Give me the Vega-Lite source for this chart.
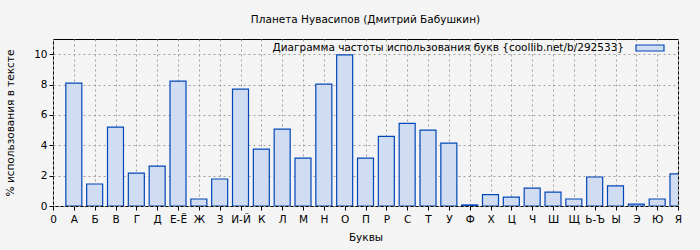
{
  "$schema": "https://vega.github.io/schema/vega-lite/v6.json",
  "width": 625,
  "height": 167,
  "autosize": {"type": "none"},
  "padding": {"left": 53, "top": 39, "right": 22, "bottom": 44},
  "background": "#f4f4f4",
  "title": {"text": "Планета Нувасипов (Дмитрий Бабушкин)", "font": "DejaVu Sans", "fontSize": 10.5, "fontWeight": "normal", "color": "#000000", "anchor": "middle", "offset": 14},
  "config": {
    "view": {"stroke": "#000000", "strokeWidth": 1, "fill": "#f4f4f4"},
    "axis": {"labelFont": "DejaVu Sans", "titleFont": "DejaVu Sans", "labelFontSize": 10.5, "titleFontSize": 10.5, "titleFontWeight": "normal", "labelColor": "#000000", "titleColor": "#000000", "gridColor": "#a0a0a0", "gridDash": [2, 3], "gridOpacity": 1, "domain": false, "tickColor": "#000000", "tickSize": 4}
  },
  "data": {"values": [
    {"letter": "А", "value": 8.09},
    {"letter": "Б", "value": 1.45},
    {"letter": "В", "value": 5.2},
    {"letter": "Г", "value": 2.17},
    {"letter": "Д", "value": 2.63},
    {"letter": "Е-Ё", "value": 8.22},
    {"letter": "Ж", "value": 0.46},
    {"letter": "З", "value": 1.78},
    {"letter": "И-Й", "value": 7.7},
    {"letter": "К", "value": 3.75},
    {"letter": "Л", "value": 5.07},
    {"letter": "М", "value": 3.16},
    {"letter": "Н", "value": 8.03},
    {"letter": "О", "value": 9.96},
    {"letter": "П", "value": 3.16},
    {"letter": "Р", "value": 4.58},
    {"letter": "С", "value": 5.44},
    {"letter": "Т", "value": 5.0},
    {"letter": "У", "value": 4.14},
    {"letter": "Ф", "value": 0.07},
    {"letter": "Х", "value": 0.75},
    {"letter": "Ц", "value": 0.59},
    {"letter": "Ч", "value": 1.18},
    {"letter": "Ш", "value": 0.92},
    {"letter": "Щ", "value": 0.46},
    {"letter": "Ь-Ъ", "value": 1.91},
    {"letter": "Ы", "value": 1.32},
    {"letter": "Э", "value": 0.13},
    {"letter": "Ю", "value": 0.46},
    {"letter": "Я", "value": 2.11}
  ]},
  "mark": {"type": "bar", "size": 16, "fill": "#d0dcf2", "stroke": "#0047b8", "strokeWidth": 1.2, "clip": true, "cornerRadius": 0},
  "encoding": {
    "x": {"field": "letter", "type": "ordinal", "title": "Буквы",
      "scale": {"type": "point", "padding": 0, "domain": ["0", "А", "Б", "В", "Г", "Д", "Е-Ё", "Ж", "З", "И-Й", "К", "Л", "М", "Н", "О", "П", "Р", "С", "Т", "У", "Ф", "Х", "Ц", "Ч", "Ш", "Щ", "Ь-Ъ", "Ы", "Э", "Ю", "Я"]},
      "axis": {"labelAngle": 0, "grid": true, "labelPadding": 4, "titlePadding": 8}},
    "y": {"field": "value", "type": "quantitative", "title": "% использования в тексте",
      "scale": {"domain": [0, 11], "nice": false},
      "axis": {"values": [0, 2, 4, 6, 8, 10], "grid": true, "titlePadding": 18}},
    "color": {"datum": "Диаграмма частоты использования букв {coollib.net/b/292533}", "type": "nominal",
      "scale": {"range": ["#d0dcf2"]},
      "legend": {"title": null, "orient": "none", "legendX": 589, "legendY": 1, "padding": 0, "labelFont": "DejaVu Sans", "labelFontSize": 10.5, "labelColor": "#000000", "labelAlign": "right", "labelOffset": -34, "symbolType": "M-2,-0.43L2,-0.43L2,0.43L-2,0.43Z", "symbolSize": 196, "symbolStrokeColor": "#0047b8", "symbolStrokeWidth": 1.2, "symbolFillColor": "#d0dcf2", "labelLimit": 500}}
  }
}
